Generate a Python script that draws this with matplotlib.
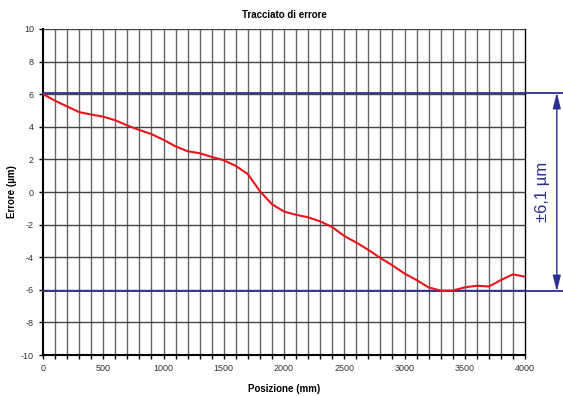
import numpy as np
import matplotlib
matplotlib.use("Agg")
import matplotlib.pyplot as plt

plt.rcParams['font.family'] = ['Liberation Sans', 'DejaVu Sans']
plt.rcParams['axes.unicode_minus'] = False

# Values
POS_MM = [0, 100, 200, 300, 400, 500, 600, 700, 800, 900, 1000,
          1100, 1200, 1300, 1400, 1500, 1600, 1700, 1800, 1900, 2000,
          2100, 2200, 2300, 2400, 2500, 2600, 2700, 2800, 2900, 3000,
          3100, 3200, 3300, 3400, 3500, 3600, 3700, 3800, 3900, 4000]
ERR_UM = [6.0, 5.6, 5.25, 4.9, 4.75, 4.62, 4.4, 4.08, 3.8, 3.55, 3.2,
          2.8, 2.5, 2.38, 2.15, 1.95, 1.6, 1.1, 0.05, -0.75, -1.2,
          -1.4, -1.55, -1.8, -2.15, -2.7, -3.1, -3.55, -4.05, -4.5, -5.0,
          -5.4, -5.85, -6.05, -6.05, -5.85, -5.75, -5.8, -5.4, -5.05, -5.2]
LIMIT = 6.1
LIMIT_LABEL = "±6,1 µm"

BLUE = '#2b2f8f'

fig = plt.figure(figsize=(5.63, 3.96), dpi=100)
ax = fig.add_axes([0.0764, 0.1035, 0.8561, 0.8233])

# grid
for xv in np.arange(100, 4000, 100):
    ax.axvline(xv, color='#666666', lw=1.0, zorder=1)
for yv in np.arange(-8, 10, 2):
    ax.axhline(yv, color='#444444', lw=1.0, zorder=1)
ax.axhline(10, color='#444444', lw=1.0, zorder=1)

# limit lines, running out past the plot to the right
for yv in (LIMIT, -LIMIT):
    ax.plot([0, 1.079], [yv, yv], color=BLUE, lw=1.3, zorder=3,
            transform=ax.get_yaxis_transform(), clip_on=False)

ax.plot(POS_MM, ERR_UM, color='#e8141c', lw=1.5, zorder=4)

# dimension arrow
ax.annotate('', xy=(1.066, -LIMIT), xytext=(1.066, LIMIT),
            xycoords=ax.get_yaxis_transform(), textcoords=ax.get_yaxis_transform(),
            arrowprops=dict(arrowstyle='<|-|>,head_length=0.8,head_width=0.2',
                            color=BLUE, lw=1.0,
                            mutation_scale=12, shrinkA=0, shrinkB=0))
ax.text(1.036, 0, LIMIT_LABEL, transform=ax.get_yaxis_transform(),
        rotation=90, ha='center', va='center', color=BLUE, fontsize=12)

ax.set_xlim(0, 4000)
ax.set_ylim(-10, 10)
ax.set_xticks(np.arange(0, 4001, 500))
ax.set_xticks(np.arange(0, 4001, 100), minor=True)
ax.set_yticks(np.arange(-10, 11, 2))
ax.tick_params(axis='both', labelsize=6.5, labelcolor='#333333',
               length=3, width=1, direction='out')
ax.tick_params(axis='x', which='minor', length=3, width=1)

ax.spines['top'].set_visible(False)
ax.spines['left'].set_linewidth(1.5)
ax.spines['bottom'].set_linewidth(1.5)
ax.spines['right'].set_linewidth(1.0)

ax.set_title('Tracciato di errore', fontsize=7, fontweight='bold', pad=8)
ax.set_xlabel('Posizione (mm)', fontsize=7, fontweight='bold', labelpad=8)
ax.set_ylabel('Errore (µm)', fontsize=7, fontweight='bold', labelpad=3)

plt.savefig('out.png', dpi=100)
